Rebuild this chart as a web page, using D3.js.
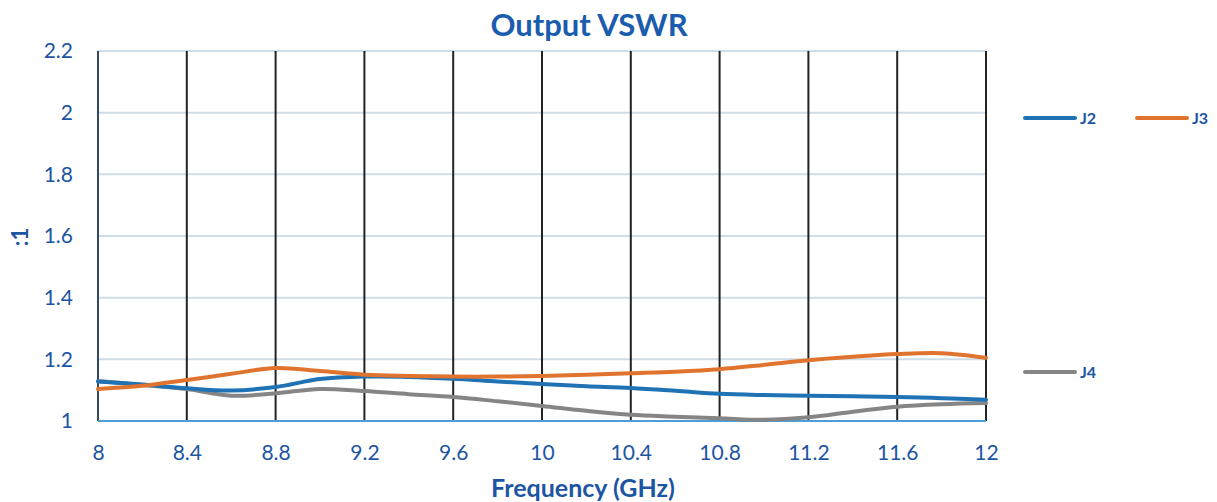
<!DOCTYPE html>
<html>
<head>
<meta charset="utf-8">
<script src="https://cdn.jsdelivr.net/npm/d3@7"></script>
<style>
  body { margin: 0; background: #fff; }
  text { font-family: Lato, "Open Sans", sans-serif; }
</style>
</head>
<body>
<div id="chart-area"></div>
<script>
// data
const freq = [8, 8.2, 8.4, 8.6, 8.8, 9.0, 9.2, 9.4, 9.6, 9.8, 10, 10.2, 10.4, 10.6, 10.8, 11.0, 11.2, 11.4, 11.6, 11.8, 12];
const j2 = [1.128, 1.118, 1.106, 1.099, 1.11, 1.136, 1.144, 1.143, 1.137, 1.128, 1.12, 1.113, 1.107, 1.098, 1.088, 1.084, 1.082, 1.08, 1.078, 1.074, 1.069];
const j3 = [1.104, 1.114, 1.133, 1.153, 1.172, 1.162, 1.15, 1.146, 1.144, 1.144, 1.146, 1.15, 1.155, 1.16, 1.168, 1.182, 1.197, 1.208, 1.217, 1.22, 1.205];
const j4 = [1.13, 1.117, 1.104, 1.082, 1.09, 1.104, 1.097, 1.087, 1.078, 1.064, 1.049, 1.033, 1.02, 1.014, 1.009, 1.004, 1.012, 1.03, 1.046, 1.054, 1.058];
const xTicks = [8, 8.4, 8.8, 9.2, 9.6, 10, 10.4, 10.8, 11.2, 11.6, 12];
const yTicks = [1, 1.2, 1.4, 1.6, 1.8, 2, 2.2];
const seriesNames = ['J2', 'J3', 'J4'];
const seriesColors = ['#1f72b4', '#e0742f', '#858585'];

const W = 1217, H = 502;
const MARGINS = { top: 51, left: 98, right: W - 986, bottom: H - 421 };
const CHART_WIDTH = W - MARGINS.left - MARGINS.right;
const CHART_HEIGHT = H - MARGINS.top - MARGINS.bottom;
const BLUE = '#1c55a2';

const svg = d3.select('#chart-area').append('svg')
  .attr('width', W)
  .attr('height', H);

const g = svg.append('g')
  .attr('transform', `translate(${MARGINS.left}, ${MARGINS.top})`);

const xScale = d3.scaleLinear().domain([8, 12]).range([0, CHART_WIDTH]);
const yScale = d3.scaleLinear().domain([1, 2.2]).range([CHART_HEIGHT, 0]);

// horizontal grid
g.append('g')
  .selectAll('line')
  .data(yTicks.slice(1))
  .enter().append('line')
  .attr('x1', 0).attr('x2', CHART_WIDTH)
  .attr('y1', d => yScale(d)).attr('y2', d => yScale(d))
  .attr('stroke', '#cfdde8')
  .attr('stroke-width', 2);

// vertical grid (black)
g.append('g')
  .selectAll('line')
  .data(xTicks.slice(1))
  .enter().append('line')
  .attr('x1', d => xScale(d)).attr('x2', d => xScale(d))
  .attr('y1', 0).attr('y2', CHART_HEIGHT)
  .attr('stroke', '#222')
  .attr('stroke-width', 2);

// left axis line
g.append('line')
  .attr('x1', 0).attr('x2', 0)
  .attr('y1', 0).attr('y2', CHART_HEIGHT)
  .attr('stroke', '#34495e')
  .attr('stroke-width', 2);

// bottom axis line
g.append('line')
  .attr('x1', 0).attr('x2', CHART_WIDTH)
  .attr('y1', CHART_HEIGHT).attr('y2', CHART_HEIGHT)
  .attr('stroke', '#4a9fd8')
  .attr('stroke-width', 2);

// axes labels via d3 axes
const xAxisCall = d3.axisBottom(xScale).tickValues(xTicks).tickSize(0).tickPadding(24).tickFormat(d3.format('~g'));
const xAxis = g.append('g').attr('transform', `translate(0, ${CHART_HEIGHT})`).call(xAxisCall);
xAxis.select('.domain').remove();
xAxis.selectAll('text').attr('font-size', '21px').attr('fill', BLUE).style('font-family', 'Lato, sans-serif');

const yAxisCall = d3.axisLeft(yScale).tickValues(yTicks).tickSize(0).tickPadding(25).tickFormat(d3.format('~g'));
const yAxis = g.append('g').call(yAxisCall);
yAxis.select('.domain').remove();
yAxis.selectAll('text').attr('font-size', '21px').attr('fill', BLUE).style('font-family', 'Lato, sans-serif');

// lines
const allSeries = [j2, j3, j4];
const lineGen = d3.line()
  .x((d, i) => xScale(freq[i]))
  .y(d => yScale(d))
  .curve(d3.curveCatmullRom.alpha(0.5));

// draw J4 first, then J2, J3
[2, 0, 1].forEach(k => {
  g.append('path')
    .datum(allSeries[k])
    .attr('fill', 'none')
    .attr('stroke', seriesColors[k])
    .attr('stroke-width', 4)
    .attr('stroke-linecap', 'round')
    .attr('d', lineGen);
});

// title
svg.append('text')
  .attr('x', 589).attr('y', 36)
  .attr('text-anchor', 'middle')
  .attr('font-size', '31px')
  .attr('font-weight', 'bold')
  .attr('fill', '#1a5cad')
  .text('Output VSWR');

// x label
svg.append('text')
  .attr('x', 583).attr('y', 497)
  .attr('text-anchor', 'middle')
  .attr('font-size', '25px')
  .attr('font-weight', 'bold')
  .attr('fill', BLUE)
  .text('Frequency (GHz)');

// y label
svg.append('text')
  .attr('transform', 'translate(28, 237) rotate(-90)')
  .attr('text-anchor', 'middle')
  .attr('font-size', '22px')
  .attr('font-weight', 'bold')
  .attr('fill', BLUE)
  .text(':1');

// legend
const legendPos = [[1025, 118], [1137, 118], [1025, 372]];
seriesNames.forEach((name, i) => {
  const row = svg.append('g').attr('transform', `translate(${legendPos[i][0]}, ${legendPos[i][1]})`);
  row.append('line')
    .attr('x1', 0).attr('x2', 50)
    .attr('stroke', seriesColors[i])
    .attr('stroke-width', 4)
    .attr('stroke-linecap', 'round');
  row.append('text')
    .attr('x', 55).attr('y', 6)
    .attr('font-size', '16px')
    .attr('font-weight', 'bold')
    .attr('fill', BLUE)
    .text(name);
});
</script>
</body>
</html>
